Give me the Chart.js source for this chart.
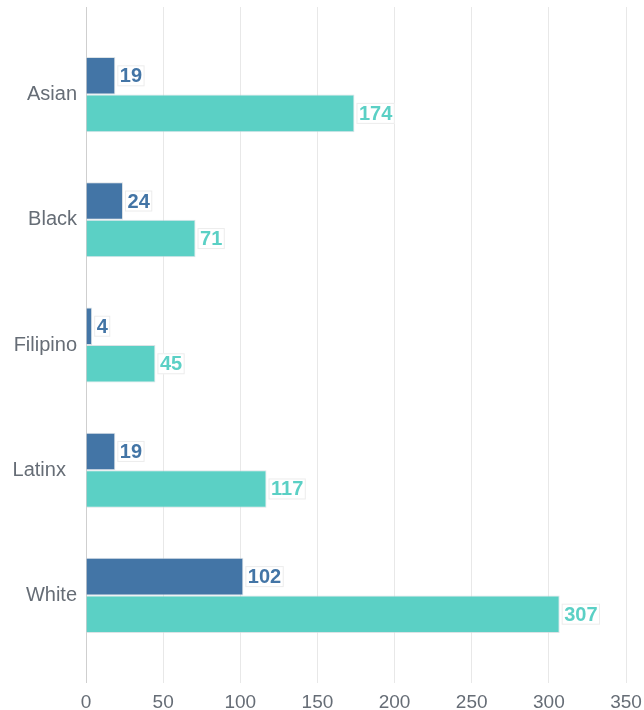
<!DOCTYPE html>
<html>
<head>
<meta charset="utf-8">
<title>Bar chart</title>
<script src="https://cdn.jsdelivr.net/npm/chart.js@4"></script>
<style>
    html, body { margin: 0; padding: 0; background: #fff; }
    #wrap { position: relative; width: 644px; height: 710px; }
</style>
</head>
<body>
<div id="wrap"><canvas id="barChart"></canvas></div>
<script>
// 数据
const categories = ['Asian', 'Black', 'Filipino', 'Latinx\u00a0\u00a0', 'White'];
const darkValues = [19, 24, 4, 19, 102];
const tealValues = [174, 71, 45, 117, 307];
const xTicks = [0, 50, 100, 150, 200, 250, 300, 350];

const DARK = '#4375a6';
const TEAL = '#5bd0c5';
const FONT = '"Helvetica Neue", Helvetica, Arial, "Liberation Sans", sans-serif';

// 柱子末端的数值标签（白底小框）
const valueLabels = {
    id: 'valueLabels',
    afterDatasetsDraw(chart) {
        const ctx = chart.ctx;
        ctx.save();
        ctx.font = 'bold 20px ' + FONT;
        ctx.textBaseline = 'middle';
        ctx.textAlign = 'left';
        chart.data.datasets.forEach((ds, i) => {
            chart.getDatasetMeta(i).data.forEach((bar, j) => {
                const text = String(ds.data[j]);
                const w = ctx.measureText(text).width + 5;
                const h = 21;
                const x = bar.x + 2;
                const y = bar.y - h / 2;
                ctx.fillStyle = '#fff';
                ctx.fillRect(x, y, w, h);
                ctx.strokeStyle = '#ececec';
                ctx.lineWidth = 1;
                ctx.strokeRect(x + 0.5, y + 0.5, w - 1, h - 1);
                ctx.fillStyle = ds.backgroundColor;
                ctx.fillText(text, x + 2.5, bar.y + 1);
            });
        });
        ctx.restore();
    }
};

function gridColor(c) {
    return c.tick && c.tick.value === 0 ? '#cfcfcf' : '#e8e8e8';
}

new Chart(document.getElementById('barChart').getContext('2d'), {
    type: 'bar',
    data: {
        labels: categories,
        datasets: [
            { label: 'Group 1', data: darkValues, backgroundColor: DARK, borderColor: 'rgba(205,215,220,0.7)', borderWidth: 1 },
            { label: 'Group 2', data: tealValues, backgroundColor: TEAL, borderColor: 'rgba(205,215,220,0.7)', borderWidth: 1 }
        ]
    },
    options: {
        indexAxis: 'y',
        responsive: true,
        maintainAspectRatio: false,
        animation: false,
        events: [],
        categoryPercentage: 0.6,
        barPercentage: 1.0,
        layout: { padding: { top: 7, right: 1, left: 0, bottom: 0 } },
        plugins: {
            legend: { display: false },
            tooltip: { enabled: false }
        },
        scales: {
            x: {
                position: 'bottom',
                min: 0,
                max: 350,
                afterBuildTicks: s => { s.ticks = xTicks.map(v => ({ value: v })); },
                afterFit: s => { s.height = 52; s.paddingRight = 18; },
                border: { display: false },
                grid: { color: gridColor, tickLength: 25, lineWidth: 1 },
                ticks: { color: '#666d76', padding: 8, font: { family: FONT, size: 19, lineHeight: 1.2 } }
            },
            // 顶部只画网格线的延伸部分
            x2: {
                position: 'top',
                axis: 'x',
                min: 0,
                max: 350,
                afterBuildTicks: s => { s.ticks = xTicks.map(v => ({ value: v })); },
                border: { display: false },
                grid: { color: gridColor, tickLength: 25, drawOnChartArea: false },
                ticks: { display: false }
            },
            y: {
                border: { display: false },
                grid: { display: false, drawTicks: false },
                afterFit: s => { s.width = 86; },
                ticks: { color: '#666d76', padding: 9, font: { family: FONT, size: 20 } }
            }
        }
    },
    plugins: [valueLabels]
});
</script>
</body>
</html>
